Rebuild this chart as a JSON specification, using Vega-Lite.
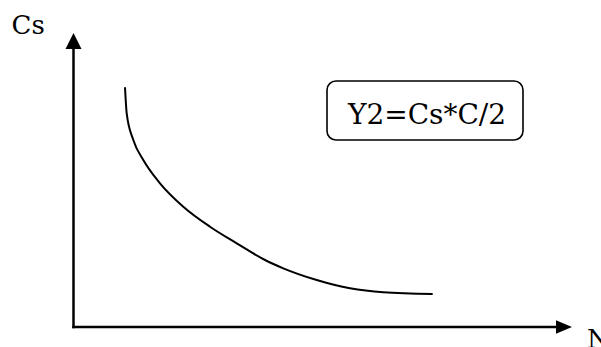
{
  "$schema": "https://vega.github.io/schema/vega-lite/v6.json",
  "width": 601,
  "height": 347,
  "autosize": {"type": "none"},
  "padding": 0,
  "background": "white",
  "config": {"view": {"stroke": null}},
  "datasets": {
    "axes": [
      {"x": 0, "y": 0, "x2": 0, "y2": 280},
      {"x": 0, "y": 0, "x2": 485, "y2": 0}
    ],
    "arrowUp": [{"x": 0, "y": 286}],
    "arrowRight": [{"x": 490.5, "y": 0}],
    "curve": [
      {"x": 51.5, "y": 239.7},
      {"x": 53.2, "y": 213.7},
      {"x": 59.8, "y": 187},
      {"x": 69.8, "y": 167},
      {"x": 86.5, "y": 143.7},
      {"x": 109.8, "y": 120.3},
      {"x": 136.5, "y": 100.3},
      {"x": 163.2, "y": 83.7},
      {"x": 191.5, "y": 67},
      {"x": 209.8, "y": 58.7},
      {"x": 243.2, "y": 47},
      {"x": 276.5, "y": 38.7},
      {"x": 309.8, "y": 34.7},
      {"x": 359.2, "y": 33}
    ],
    "box": [{"x": 253.5, "x2": 449.5, "y": 246, "y2": 187}],
    "labels": [
      {"x": -62, "y": 293, "t": "Cs"},
      {"x": 513.5, "y": -20.5, "t": "N"}
    ],
    "formula": [{"x": 353.5, "y": 203, "t": "Y2=Cs*C/2"}]
  },
  "encoding": {
    "x": {"field": "x", "type": "quantitative", "scale": {"domain": [-73.5, 527.5], "nice": false, "zero": false}, "axis": null},
    "y": {"field": "y", "type": "quantitative", "scale": {"domain": [-20, 327], "nice": false, "zero": false}, "axis": null}
  },
  "layer": [
    {
      "data": {"name": "axes"},
      "mark": {"type": "rule", "color": "black", "strokeWidth": 2.5, "strokeCap": "square"},
      "encoding": {
        "x2": {"field": "x2"},
        "y2": {"field": "y2"}
      }
    },
    {
      "data": {"name": "arrowUp"},
      "mark": {"type": "point", "shape": "M0,-1L1,1L-1,1Z", "size": 256, "filled": true, "color": "black", "opacity": 1, "strokeWidth": 0}
    },
    {
      "data": {"name": "arrowRight"},
      "mark": {"type": "point", "shape": "M1,0L-1,-0.85L-1,0.85Z", "size": 256, "filled": true, "color": "black", "opacity": 1, "strokeWidth": 0}
    },
    {
      "data": {"name": "curve"},
      "mark": {"type": "line", "color": "black", "strokeWidth": 2, "interpolate": "monotone"}
    },
    {
      "data": {"name": "box"},
      "mark": {"type": "rect", "fill": "white", "stroke": "black", "strokeWidth": 1.6, "cornerRadius": 9},
      "encoding": {
        "x2": {"field": "x2"},
        "y2": {"field": "y2"}
      }
    },
    {
      "data": {"name": "labels"},
      "mark": {"type": "text", "font": "DejaVu Serif", "fontSize": 26, "align": "left", "baseline": "alphabetic", "color": "black"},
      "encoding": {"text": {"field": "t"}}
    },
    {
      "data": {"name": "formula"},
      "mark": {"type": "text", "font": "DejaVu Serif", "fontSize": 28, "align": "center", "baseline": "alphabetic", "color": "black"},
      "encoding": {"text": {"field": "t"}}
    }
  ]
}
